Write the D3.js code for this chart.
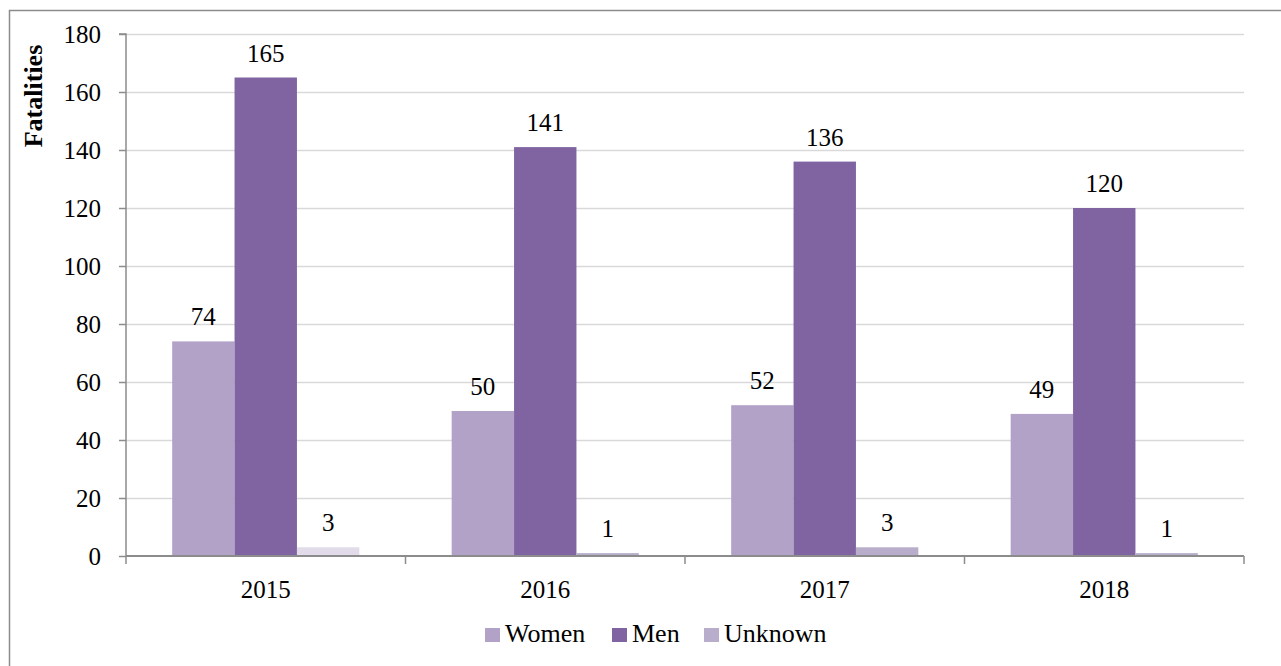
<!DOCTYPE html>
<html>
<head>
<meta charset="utf-8">
<script src="https://cdn.jsdelivr.net/npm/d3@7"></script>
<style>
  body { margin: 0; background: #fff; }
  svg text { font-family: 'Liberation Serif', 'DejaVu Serif', 'Times New Roman', Times, serif !important; fill: #000; }
</style>
</head>
<body>
<div id="chart"></div>
<script>
var years = ['2015', '2016', '2017', '2018'];
var series = ['Women', 'Men', 'Unknown'];
var women = [74, 50, 52, 49];
var men = [165, 141, 136, 120];
var unknown = [3, 1, 3, 1];
var yTicks = [0, 20, 40, 60, 80, 100, 120, 140, 160, 180];

var colors = { Women: '#b2a2c8', Men: '#8064a2', Unknown: '#b8aecb' };
var values = { Women: women, Men: men, Unknown: unknown };

var W = 1281, H = 666;
var margin = { left: 126, right: 37, top: 34, bottom: 110 };
var fs = 25;

var svg = d3.select('#chart').append('svg').attr('width', W).attr('height', H);

// outer frame (left + top edges visible)
svg.append('path').attr('d', 'M9.5,' + H + ' V10.5 H' + W)
    .attr('fill', 'none').attr('stroke', '#8c8c8c').attr('stroke-width', 1.5);

var x = d3.scaleBand().domain(years).range([margin.left, W - margin.right]).paddingInner(0).paddingOuter(0);
var xsub = d3.scaleBand().domain(series).range([0, x.bandwidth()]).paddingInner(0).paddingOuter(0.74);
var y = d3.scaleLinear().domain([0, 180]).range([H - margin.bottom, margin.top]);

// gridlines
svg.append('g').selectAll('line').data(yTicks.slice(1)).join('line')
    .attr('x1', margin.left).attr('x2', W - margin.right)
    .attr('y1', d => y(d) + 0.5).attr('y2', d => y(d) + 0.5)
    .attr('stroke', '#d9d9d9').attr('stroke-width', 1.5);

// bars
years.forEach(function (yr, i) {
    var g = svg.append('g');
    series.forEach(function (s) {
        var v = values[s][i];
        var fill = colors[s];
        if (s === 'Unknown' && i === 0) fill = '#e2dcea';
        g.append('rect')
            .attr('x', x(yr) + xsub(s))
            .attr('y', y(v))
            .attr('width', xsub.bandwidth())
            .attr('height', y(0) - y(v))
            .attr('fill', fill);
        g.append('text')
            .attr('x', x(yr) + xsub(s) + xsub.bandwidth() / 2)
            .attr('y', y(v) - 16)
            .attr('text-anchor', 'middle')
            .attr('font-size', fs)
            .text(v);
    });
});

// y axis
var yAxis = svg.append('g').attr('transform', 'translate(' + margin.left + ',0)')
    .call(d3.axisLeft(y).tickValues(yTicks).tickSize(7).tickPadding(18));
yAxis.selectAll('text').attr('font-size', fs).attr('dy', '0.33em');
yAxis.selectAll('line, path').attr('stroke', '#8c8c8c').attr('stroke-width', 1.5);
yAxis.select('.domain').attr('d', 'M-7,' + y(180) + 'H0V' + y(0));

// x axis
var xAxis = svg.append('g').attr('transform', 'translate(0,' + y(0) + ')')
    .call(d3.axisBottom(x).tickSize(0).tickPadding(24));
xAxis.selectAll('text').attr('font-size', fs);
xAxis.select('.domain').attr('stroke', '#8c8c8c').attr('stroke-width', 2)
    .attr('d', 'M' + margin.left + ',0H' + (W - margin.right));
var bounds = years.map(d => x(d)).concat([W - margin.right]);
xAxis.append('g').selectAll('line').data(bounds).join('line')
    .attr('x1', d => d).attr('x2', d => d).attr('y1', 0).attr('y2', 8)
    .attr('stroke', '#8c8c8c').attr('stroke-width', 1.5);

// y label
svg.append('text')
    .attr('transform', 'translate(42,96) rotate(-90)')
    .attr('text-anchor', 'middle')
    .attr('font-size', 26).attr('font-weight', 'bold')
    .text('Fatalities');

// legend
var legendX = [485, 612, 704];
var legend = svg.append('g').attr('transform', 'translate(0,642)');
series.forEach(function (s, i) {
    legend.append('rect').attr('x', legendX[i]).attr('y', -14).attr('width', 15).attr('height', 14).attr('fill', colors[s]);
    legend.append('text').attr('x', legendX[i] + 20).attr('y', 0).attr('font-size', 26).text(s);
});
</script>
</body>
</html>
